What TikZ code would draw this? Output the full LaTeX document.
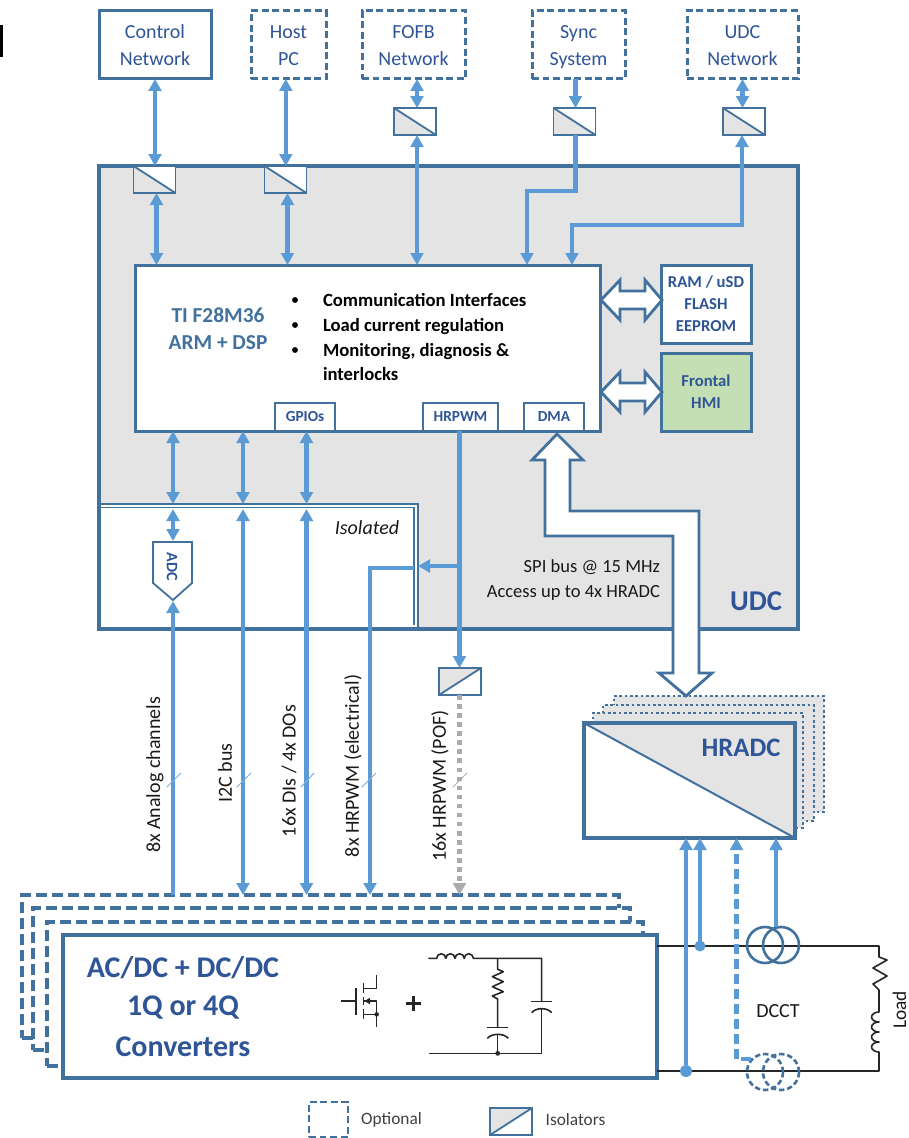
\documentclass[tikz,border=0pt]{standalone}
\usepackage{fontspec}
\setmainfont{Carlito}
\usetikzlibrary{arrows.meta}
\definecolor{boxc}{HTML}{41719C}
\definecolor{txtc}{HTML}{2F5597}
\definecolor{arrc}{HTML}{5B9BD5}
\definecolor{greyf}{HTML}{E4E4E4}
\definecolor{grnf}{HTML}{C5DFB4}
\definecolor{graya}{HTML}{ABABAB}
\definecolor{wire}{HTML}{262626}
\newcommand\fs[1]{\fontsize{#1}{#1}\selectfont}
\newcommand\topr{\rule{0pt}{17.2pt}}
\newcommand\smr{\rule{0pt}{13.5pt}}
\tikzset{
  wh/.style 2 args={minimum width={#1*0.75pt},minimum height={#2*0.75pt}},
  lw/.style={line width={#1*0.75pt}},
  boxn/.style={draw=boxc,lw=3,inner sep=0pt,outer sep=0pt,align=center,text=txtc,font=\fontsize{15}{20.25}\selectfont},
  optn/.style={boxn,dash pattern=on 5.2pt off 2.7pt},
  isotl/.style={draw=boxc,lw=1.8,fill=greyf,inner sep=0pt,outer sep=0pt,wh={42}{27},
    path picture={\fill[white] (path picture bounding box.north west) -- (path picture bounding box.north east) -- (path picture bounding box.south east) -- cycle;
      \draw[draw=boxc,lw=1.8] (path picture bounding box.north west) -- (path picture bounding box.south east);}},
  isobl/.style={draw=boxc,lw=1.8,fill=greyf,inner sep=0pt,outer sep=0pt,wh={42}{27},
    path picture={\fill[white] (path picture bounding box.south west) -- (path picture bounding box.north east) -- (path picture bounding box.south east) -- cycle;
      \draw[draw=boxc,lw=1.8] (path picture bounding box.south west) -- (path picture bounding box.north east);}},
  smallb/.style={boxn,lw=2.8,fill=white,font=\fs{11.5}\bfseries},
  link/.style={draw=arrc,lw=4.2},
  tipa/.tip={Triangle[length=9pt,width=9.5pt]},
  both/.style={link,{tipa}-{tipa}},
  tohead/.style={link,-{tipa}},
  blockar/.style={draw=boxc,lw=2.8,fill=white,line join=miter},
  label/.style={inner sep=0pt,outer sep=0pt,text=black!90,font=\fs{15}},
  vlabel/.style={label,rotate=90},
  tick/.style={draw=arrc!80,lw=1},
  conv/.style={draw=boxc,lw=3.6,fill=white,inner sep=0pt,outer sep=0pt,dash pattern=on 8pt off 4pt},
  dots/.style={draw=boxc,lw=2.8,fill=greyf,inner sep=0pt,outer sep=0pt,dash pattern=on 2pt off 2pt},
  wiring/.style={draw=wire,line width=1.2pt,line join=round},
  ct/.style={circle,draw=boxc,lw=2.6,inner sep=0pt,outer sep=0pt,minimum size={36*0.75pt}},
  bul/.style={circle,fill=black,inner sep=0pt,minimum size=4.4pt},
  jdot/.style={circle,fill=arrc,inner sep=0pt,outer sep=0pt},
  udcb/.style={draw=boxc,lw=4,inner sep=0pt,outer sep=0pt},
  bodyt/.style={label,anchor=base west,font=\fs{14}\bfseries,text=black}
}
\begin{document}
\begin{tikzpicture}[x=0.75pt,y=-0.75pt]
\useasboundingbox (0,0) rectangle (909,1138);
\fill[black] (0,25) rectangle (3,57);

% x positions of the vertical buses
\coordinate (xa) at (173,0);
\coordinate (xb) at (243,0);
\coordinate (xc) at (306.5,0);
\coordinate (xd) at (370,0);
\coordinate (xe) at (459.5,0);
\coordinate (xf) at (686,0);
\coordinate (xg) at (700,0);
\coordinate (xh) at (736.5,0);
\coordinate (xi) at (776,0);
\coordinate (xj) at (527,0);
\coordinate (xk) at (572,0);
\coordinate (xl) at (417,0);
\coordinate (xm) at (575.5,0);

% UDC background
\node[fill=greyf,inner sep=0pt,wh={699}{463}] (udcbg) at (448.5,397.5) {};
\node[fill=white,draw=boxc,lw=1.8,inner sep=0pt,outer sep=0pt,wh={319}{125}] (isol) at (258.5,566.5) {};
\draw[draw=boxc,lw=1.6] (99,507.5) -- (414,507.5) -- (414,625);
\node[udcb,wh={699}{463}] (udc) at (448.5,397.5) {};

% top row
\node[boxn,wh={112}{68}] (ctrl) at (155,45) {\topr Control\\\strut Network};
\node[optn,wh={75}{68}] (host) at (288.5,45) {\topr Host\\\strut PC};
\node[optn,wh={103}{68}] (fofb) at (413.5,45) {\topr FOFB\\\strut Network};
\node[optn,wh={93}{68}] (sync) at (578.5,45) {\topr Sync\\\strut System};
\node[optn,wh={111}{68}] (udcn) at (742.5,45) {\topr UDC\\\strut Network};

% isolators
\node[isotl] (isoa) at (154.5,179.5) {};
\node[isotl] (isob) at (285.5,179.5) {};
\node[isotl] (isoc) at (415,121.5) {};
\node[isotl] (isod) at (574.5,121.5) {};
\node[isotl] (isoe) at (744,121.5) {};
\node[isobl] (isof) at (460,681.5) {};

% main processor
\node[boxn,lw=3,fill=white,wh={465}{166}] (main) at (367.5,348) {};
\node[smallb,wh={60}{28}] (gpio) at (305,417) {GPIOs};
\node[smallb,wh={75}{28}] (hrpwm) at (460.5,417) {HRPWM};
\node[smallb,wh={60}{28}] (dma) at (554,417) {DMA};
\node[boxn,lw=3,fill=white,wh={90}{78},font=\fontsize{12.5}{16.5}\selectfont\bfseries] (ram) at (706,304) {\smr RAM / uSD\\\strut FLASH\\\strut EEPROM};
\node[boxn,lw=3,fill=grnf,wh={90}{78},font=\fontsize{12.5}{16.5}\selectfont\bfseries] (hmi) at (706,392) {\smr Frontal\\\strut HMI};

\node[inner sep=0pt,align=center,text=boxc,font=\fontsize{16}{20.25}\selectfont\bfseries] (tit) at (218,329) {\topr TI F28M36\\\strut ARM + DSP};
\node[bul] (b1) at (295,300) {};
\node[bul] (b2) at (295,325) {};
\node[bul] (b3) at (295,350) {};
\node[bodyt] (t1) at (323,306.5) {Communication Interfaces};
\node[bodyt] (t2) at (323,331.5) {Load current regulation};
\node[bodyt] (t3) at (323,356.5) {Monitoring, diagnosis \&};
\node[bodyt] (t4) at (323,380.5) {interlocks};

% block arrows main <-> memories
\draw[blockar] (601,300) -- (620,280) -- (620,291) -- (645,291) -- (645,280) -- (662,300) -- (645,320) -- (645,309) -- (620,309) -- (620,320) -- cycle;
\draw[blockar] (601,392) -- (620,372) -- (620,383) -- (645,383) -- (645,372) -- (662,392) -- (645,412) -- (645,401) -- (620,401) -- (620,412) -- cycle;

% texts inside UDC
\node[label,font=\fs{15}\itshape] (isot) at (367,528) {Isolated};
\node[label,anchor=base east,font=\fs{13.9}] (spi1) at (660,572.5) {SPI bus @ 15 MHz};
\node[label,anchor=base east,font=\fs{13.9}] (spi2) at (660,597.5) {Access up to 4x HRADC};
\node[label,text=txtc,font=\fs{21.5}\bfseries] (udct) at (756,601) {UDC};

% ADC
\draw[draw=boxc,lw=1.8,fill=white] (153,542) -- (192,542) -- (192,583) -- (173,600) -- (153,583) -- cycle;
\node[label,rotate=-90,text=txtc,font=\fs{12}\bfseries] (adc) at (172,567) {ADC};
\coordinate (adctop) at (173,541);
\coordinate (adctip) at (173,601);
\coordinate (inner) at (173,509);

% converters
\node[conv,wh={597}{143}] (c1) at (320.5,966.5) {};
\node[conv,wh={597}{142}] (c2) at (331.5,979) {};
\node[conv,wh={596}{144}] (c3) at (345,994) {};
\node[boxn,lw=3.6,fill=white,wh={594}{143}] (conv) at (360,1006.5) {};
\node[inner sep=0pt,align=center,text=txtc,font=\fs{22.5}\bfseries] (convt) at (183,968) {AC/DC + DC/DC};
\node[inner sep=0pt,align=center,text=txtc,font=\fs{22.5}\bfseries] (convu) at (183,1008) {1Q or 4Q};
\node[inner sep=0pt,align=center,text=txtc,font=\fs{22.5}\bfseries] (convv) at (183,1047) {Converters};

% HRADC
\node[dots,wh={210}{116}] (h3) at (719,754) {};
\node[dots,wh={211}{116}] (h2) at (708.5,763) {};
\node[dots,wh={210}{115}] (h1) at (698,770.5) {};
\node[boxn,lw=3.2,fill=white,wh={211}{115},
  path picture={\fill[greyf] (path picture bounding box.north west) -- (path picture bounding box.north east) -- (path picture bounding box.south east) -- cycle;
  \draw[draw=boxc,lw=2] (path picture bounding box.north west) -- (path picture bounding box.south east);}] (hradc) at (689.5,780.5) {};
\node[label,text=txtc,font=\fs{20}\bfseries] (hradct) at (741,748) {HRADC};

% SPI block arrow
\draw[blockar] (557,434) -- (583,460) -- (570,460) -- (570,511) -- (699,511) -- (699,673) -- (712,673) -- (686,696) -- (659,673) -- (673,673) -- (673,536) -- (545,536) -- (545,460) -- (532,460) -- cycle;

% top connectors
\draw[both] (ctrl.south) -- (ctrl.south |- isoa.north);
\draw[both] ([xshift=-2pt]host.south) -- ([xshift=-2pt]host.south |- isob.north);
\draw[both] (fofb.south -| xl) -- (isoc.north -| xl);
\draw[tohead] (sync.south -| xm) -- (isod.north -| xm);
\draw[both] (udcn.south) -- (udcn.south |- isoe.north);
\draw[both] ([xshift=1.5pt]isoa.south) -- ([xshift=1.5pt]isoa.south |- main.north);
\draw[both] ([xshift=1.5pt]isob.south) -- ([xshift=1.5pt]isob.south |- main.north);
\draw[both] (isoc.south -| xl) -- (main.north -| xl);
\draw[tohead,line join=miter] (isod.south -| xm) |- (xj |- 0,191) -- (xj |- main.north);
\draw[both,line join=miter] ([xshift=-1.5pt]isoe.south) |- (xk |- 0,225) -- (xk |- main.north);

% main to isolated
\draw[both] (main.south -| xa) -- (isol.north -| xa);
\draw[both] (main.south -| xb) -- (isol.north -| xb);
\draw[both] (main.south -| xc) -- (isol.north -| xc);
\draw[both] (inner) -- (adctop);

% bus lines
\draw[tohead] (xa |- c1.north) -- (adctip);
\draw[both] (xb |- inner) -- (xb |- c1.north);
\draw[both] (xc |- inner) -- (xc |- c1.north);
\coordinate (tap) at (xe |- 0,566);
\coordinate (inbar) at (414,568);
\draw[tohead,line join=miter] (inbar) -| (xd |- c1.north);
\draw[tohead] (tap) -- (tap -| isol.east);
\draw[tohead] (xe |- hrpwm.south) -- (xe |- isof.north);
\draw[-{tipa},draw=graya,lw=4.2,dash pattern=on 3.4pt off 3.4pt] (xe |- isof.south) -- (xe |- c1.north);

% bus ticks
\draw[tick] (167,787) -- (181,773);
\draw[tick] (237,787) -- (251,773);
\draw[tick] (301,787) -- (314,773);
\draw[tick] (362,787) -- (376,773);
\draw[draw=graya,lw=1] (453,787) -- (467,773);

% bus labels
\node[vlabel] (l1) at (155,775) {8x Analog channels};
\node[vlabel] (l2) at (225,773) {I2C bus};
\node[vlabel] (l3) at (289,771) {16x DIs / 4x DOs};
\node[vlabel] (l4) at (353,766) {8x HRPWM (electrical)};
\node[vlabel] (l5) at (440,786) {16x HRPWM (POF)};

% output circuit
\coordinate (ltop) at (879,946);
\coordinate (lbot) at (879,1071);
\draw[wiring] (conv.east |- ltop) -- (ltop) -- (879,957) -- (887,960) -- (873,968) -- (887,976) -- (873,984) -- (879,990) -- (879,1012)
  arc[start angle=90,end angle=270,x radius=5.6pt,y radius=3.75pt]
  arc[start angle=90,end angle=270,x radius=5.6pt,y radius=3.75pt]
  arc[start angle=90,end angle=270,x radius=5.6pt,y radius=3.75pt]
  arc[start angle=90,end angle=270,x radius=5.6pt,y radius=3.75pt]
  -- (lbot) -- (conv.east |- lbot);
\node[ct] (dcta) at (765,945) {};
\node[ct] (dctb) at (781,945) {};
\node[ct,dash pattern=on 4pt off 2.2pt] (dctc) at (765,1072) {};
\node[ct,dash pattern=on 4pt off 2.2pt] (dctd) at (781,1072) {};
\node[jdot,minimum size={11*0.75pt}] (ja) at (xg |- ltop) {};
\node[jdot,minimum size={12*0.75pt}] (jb) at (xf |- lbot) {};
\draw[tohead] (ja) -- (ja |- hradc.south);
\draw[tohead] (jb) -- (jb |- hradc.south);
\draw[tohead] (dcta.north -| xi) -- (xi |- hradc.south);
\coordinate (dctin) at (751,1059);
\draw[link,-{tipa},dash pattern=on 7.5pt off 3.7pt,line join=miter] (dctin) -| (xh |- hradc.south);
\node[label] (dcct) at (778,1011) {DCCT};
\node[vlabel,font=\fs{14.5}] (load) at (899.5,1010) {Load};

% converter symbols
\begin{scope}[shift={(320,920)},x=.25pt,y=-.25pt]
\draw[wiring] (63,243) -- (108,243) (108,205) -- (108,285);
\draw[wiring] (130,190) -- (130,220) (130,232) -- (130,255) (130,268) -- (130,296);
\draw[wiring] (130,205) -- (170,205) -- (170,165);
\draw[wiring] (130,283) -- (170,283) -- (170,322);
\draw[wiring] (130,243) -- (170,243) -- (170,283);
\fill[wire] (134,243) -- (150,233) -- (150,253) -- cycle;
\fill[wire] (170,283) circle[radius=1.7pt];
\draw[wire,line width=2.6pt] (258,250) -- (302,250) (280,228) -- (280,272);
\draw[wiring] (325,115) -- (350,115)
  arc[start angle=180,end angle=0,radius=3.44pt]
  arc[start angle=180,end angle=0,radius=3.44pt]
  arc[start angle=180,end angle=0,radius=3.44pt]
  arc[start angle=180,end angle=0,radius=3.44pt]
  -- (665,115) -- (665,245);
\draw[wiring] (633,245) -- (697,245);
\draw[wiring] (635,278) .. controls (648,262) and (682,262) .. (695,278);
\draw[wiring] (665,266) -- (665,400) -- (327,400);
\draw[wiring] (533,115) -- (533,148) -- (550,155) -- (517,170) -- (550,185) -- (517,200) -- (550,215) -- (517,228) -- (533,237) -- (533,323);
\draw[wiring] (502,323) -- (565,323);
\draw[wiring] (502,355) .. controls (515,339) and (552,339) .. (565,355);
\draw[wiring] (533,343) -- (533,400);
\fill[wire] (533,400) circle[radius=1.8pt];
\end{scope}

% legend
\node[optn,lw=2.5,wh={39}{35}] (lega) at (328.5,1119.5) {};
\node[label,font=\fs{13},text=black!75] (legb) at (391.5,1120) {Optional};
\node[isobl,lw=2] (legc) at (511,1121.5) {};
\node[label,font=\fs{13},text=black!75] (legd) at (575.5,1120) {Isolators};
\end{tikzpicture}
\end{document}
